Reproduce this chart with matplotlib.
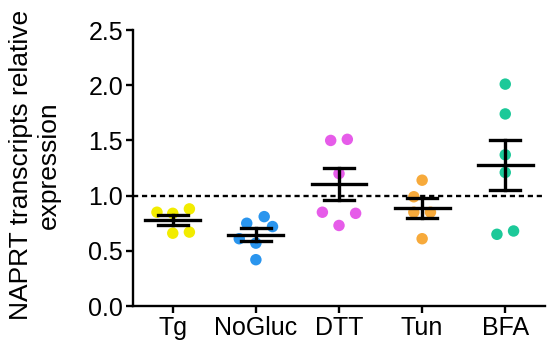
import numpy as np
import matplotlib
matplotlib.use("Agg")
import matplotlib.pyplot as plt

plt.rcParams['font.family'] = ['Liberation Sans', 'DejaVu Sans']

# groups and replicate values
groups = ["Tg", "NoGluc", "DTT", "Tun", "BFA"]
tg = [0.85, 0.84, 0.88, 0.66, 0.67]
nogluc = [0.75, 0.81, 0.72, 0.61, 0.57, 0.42]
dtt = [1.50, 1.51, 1.20, 0.85, 0.84, 0.73]
tun = [1.14, 0.99, 0.85, 0.85, 0.61]
bfa = [2.01, 1.74, 1.37, 1.21, 0.65, 0.68]
values = [tg, nogluc, dtt, tun, bfa]

# horizontal scatter of the dots (in category units)
jitter = [
    [-0.19, 0, 0.2, 0, 0.2],
    [-0.11, 0.1, 0.2, -0.2, 0, 0],
    [-0.1, 0.1, 0, -0.2, 0.2, 0],
    [0, -0.1, -0.1, 0.1, 0],
    [0, 0, 0, 0, -0.1, 0.1],
]
colors = ["#f2ec00", "#2a95ee", "#e65ce9", "#f7aa3b", "#1cc999"]

fig = plt.figure(figsize=(5.49, 3.49), dpi=100)
ax = fig.add_axes([0.242, 0.123, 0.751, 0.791])

for i, (v, j, c) in enumerate(zip(values, jitter, colors)):
    v = np.array(v)
    ax.scatter(i + np.array(j), v, s=68, color=c, edgecolors='none', zorder=2)
    m = v.mean()
    sem = v.std(ddof=1) / np.sqrt(len(v))
    ax.plot([i - 0.33, i + 0.33], [m, m], color='black', lw=2.4, zorder=3)
    ax.plot([i, i], [m - sem, m + sem], color='black', lw=2.4, zorder=3)
    for y in (m - sem, m + sem):
        ax.plot([i - 0.18, i + 0.18], [y, y], color='black', lw=2.4, zorder=3)

ax.axhline(1.0, color='black', lw=1.7, ls=(0, (2.2, 1.6)), zorder=1)

ax.set_xlim(-0.48, 4.48)
ax.set_ylim(0, 2.5)
ax.set_yticks([0, 0.5, 1.0, 1.5, 2.0, 2.5])
ax.set_yticklabels(["0.0", "0.5", "1.0", "1.5", "2.0", "2.5"])
ax.set_xticks(range(len(groups)))
ax.set_xticklabels(groups)
ax.spines['top'].set_visible(False)
ax.spines['right'].set_visible(False)
for s in ('left', 'bottom'):
    ax.spines[s].set_linewidth(1.7)
ax.tick_params(width=1.7, length=5, labelsize=18, pad=2)
ax.set_ylabel("NAPRT transcripts relative\nexpression", fontsize=19, linespacing=1.2)
ax.yaxis.set_label_coords(-0.175, 0.51)

fig.savefig("out.png", dpi=100)
